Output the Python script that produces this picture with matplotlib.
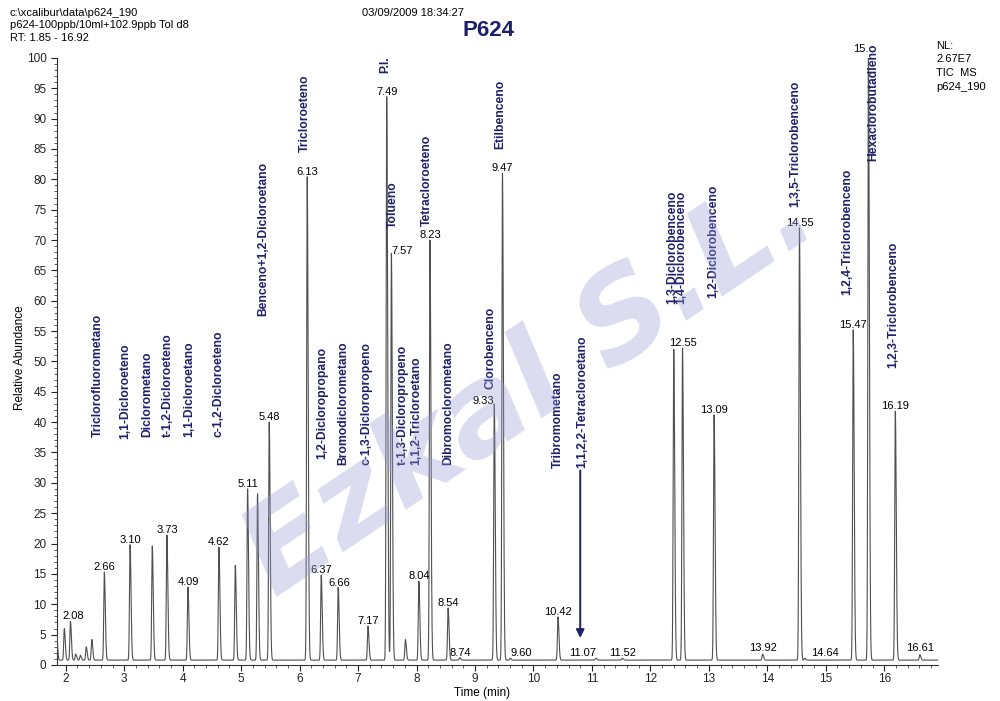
# coding: utf-8
# Cromatograma TIC P624 (Xcalibur) - recreación con matplotlib
import numpy as np
import matplotlib.pyplot as plt
from matplotlib.ticker import MultipleLocator

plt.rcParams['font.family'] = ['Liberation Sans', 'DejaVu Sans']

# ================= datos =================
# picos: tiempo de retención (min) y abundancia relativa (%)
peak_rt = [1.84, 1.975, 2.08, 2.17, 2.25, 2.35, 2.445,
           2.66, 3.10, 3.48, 3.73, 4.09, 4.62, 4.90, 5.11, 5.28, 5.48,
           6.13, 6.37, 6.66, 7.17, 7.49, 7.57, 7.81, 8.04, 8.23, 8.54,
           8.74, 9.33, 9.47, 9.60, 10.42, 11.07, 11.52, 12.40, 12.55,
           13.09, 13.92, 14.55, 14.64, 15.47, 15.73, 16.19, 16.61]
peak_height = [5.0, 5.2, 6.4, 1.0, 0.8, 2.2, 3.4,
               14.5, 19.0, 18.8, 20.6, 12.0, 18.6, 15.6, 28.2, 27.4, 39.2,
               79.6, 14.0, 12.0, 5.6, 92.8, 67.0, 3.4, 13.0, 69.2, 8.6,
               0.4, 42.2, 80.2, 0.3, 7.1, 0.3, 0.3, 51.2, 51.4,
               40.4, 1.0, 71.2, 0.3, 54.4, 99.4, 41.0, 0.9]
baseline = 0.8

# etiquetas de tiempo sobre los picos: texto, x, y, alineación
rt_text = ['2.08', '2.66', '3.10', '3.73', '4.09', '4.62', '5.11', '5.48',
           '6.13', '6.37', '6.66', '7.17', '7.49', '7.57', '8.04', '8.23',
           '8.54', '8.74', '9.33', '9.47', '9.60', '10.42', '11.07', '11.52',
           '12.55', '13.09', '13.92', '14.55', '14.64', '15.47', '15.', '16.19',
           '16.61']
rt_text_x = [2.12, 2.66, 3.10, 3.73, 4.09, 4.62, 5.11, 5.48,
             6.13, 6.37, 6.68, 7.17, 7.49, 7.57, 8.04, 8.23,
             8.54, 8.74, 9.33, 9.47, 9.60, 10.42, 11.07, 11.52,
             12.55, 13.09, 13.92, 14.55, 14.75, 15.47, 15.73, 16.19,
             16.61]
rt_text_y = [7.2, 15.3, 19.8, 21.4, 12.8, 19.4, 29.0, 40.0,
             80.4, 14.8, 12.6, 6.4, 93.6, 67.4, 13.8, 70.0,
             9.4, 1.2, 42.6, 81.0, 1.2, 7.9, 1.2, 1.2,
             52.2, 41.2, 1.9, 72.0, 1.2, 55.2, 100.6, 41.8,
             1.9]
rt_text_ha = ['center'] * 13 + ['left'] + ['center'] * 4 + ['right', 'center', 'left',
             'center', 'right', 'center'] + ['center'] * 4 + ['left', 'center', 'right',
             'center', 'center']

# compuestos: nombre, posición x (min) y base de la etiqueta (%)
compounds = ['Triclorofluorometano', '1,1-Dicloroeteno', 'Diclorometano',
             't-1,2-Dicloroeteno', '1,1-Dicloroetano', 'c-1,2-Dicloroeteno',
             'Benceno+1,2-Dicloroetano', 'Tricloroeteno', '1,2-Dicloropropano',
             'Bromodiclorometano', 'c-1,3-Dicloropropeno', 'P.I.', 'Tolueno',
             't-1,3-Dicloropropeno', '1,1,2-Tricloroetano', 'Tetracloroeteno',
             'Dibromoclorometano', 'Clorobenceno', 'Etilbenceno', 'Tribromometano',
             '1,1,2,2-Tetracloroetano', '1,3-Diclorobenceno', '1,4-Diclorobenceno',
             '1,2-Diclorobenceno', '1,3,5-Triclorobenceno', '1,2,4-Triclorobenceno',
             'Hexaclorobutadieno', '1,2,3-Triclorobenceno']
compound_x = [2.55, 3.01, 3.39, 3.75, 4.12, 4.62, 5.37, 6.09, 6.38, 6.74, 7.15,
              7.46, 7.60, 7.77, 8.00, 8.18, 8.54, 9.26, 9.43, 10.42, 10.84,
              12.38, 12.52, 13.08, 14.48, 15.37, 15.82, 16.16]
compound_y = [37.5, 37.3, 37.5, 37.5, 37.5, 37.5, 57.5, 84.5, 34.0, 33.0, 33.0,
              97.5, 72.0, 33.0, 33.0, 72.3, 33.0, 45.5, 85.0, 32.5, 32.5,
              59.5, 59.5, 60.5, 75.5, 61.0, 83.0, 49.0]

NAVY = '#1f1f6b'
TRACE = '#505050'

# ================= traza =================
t = np.arange(1.85, 16.92, 0.002)
y = np.full_like(t, baseline)
for rt, h in zip(peak_rt, peak_height):
    sig = np.where(t < rt, 0.010, 0.016)
    y += h * np.exp(-0.5 * ((t - rt) / sig) ** 2)

fig = plt.figure(figsize=(10, 7.01), dpi=100)
ax = fig.add_axes([0.057, 0.0514, 0.881, 0.866])
ax.patch.set_alpha(0)

# marca de agua
fig.text(0.53, 0.45, 'Ezkal S.L.', rotation=34, fontsize=88, style='italic',
         weight='bold', color='#9a9ad8', alpha=0.35, ha='center', va='center',
         family='DejaVu Sans', zorder=0)

ax.plot(t, y, color=TRACE, lw=0.8, zorder=3)

for s, x0, y0, ha in zip(rt_text, rt_text_x, rt_text_y, rt_text_ha):
    ax.text(x0, y0, s, ha=ha, va='bottom', fontsize=8, color='black',
            clip_on=False, zorder=4)

for s, x0, y0 in zip(compounds, compound_x, compound_y):
    ax.text(x0, y0, s, rotation=90, ha='center', va='bottom', fontsize=8.7,
            weight='bold', color=NAVY, clip_on=False, zorder=4)

ax.annotate('', xy=(10.80, 4.0), xytext=(10.80, 32.5),
            arrowprops=dict(arrowstyle='-|>', color=NAVY, lw=1.4,
                            mutation_scale=12), zorder=4)

# ejes
ax.set_xlim(1.85, 16.92)
ax.set_ylim(0, 100)
ax.spines['top'].set_visible(False)
ax.spines['right'].set_visible(False)
for sp in ('left', 'bottom'):
    ax.spines[sp].set_color('#333333')
    ax.spines[sp].set_linewidth(0.8)
ax.xaxis.set_major_locator(MultipleLocator(1))
ax.xaxis.set_minor_locator(MultipleLocator(0.2))
ax.yaxis.set_major_locator(MultipleLocator(5))
ax.yaxis.set_minor_locator(MultipleLocator(1))
ax.tick_params(which='major', length=4, width=0.8, labelsize=8.5, colors='#222222')
ax.tick_params(axis='x', which='major', pad=2)
ax.tick_params(which='minor', length=2, width=0.6, colors='#444444')
fig.text(0.482, 0.012, 'Time (min)', ha='center', va='center', fontsize=8.5)
fig.text(0.02, 0.49, 'Relative Abundance', rotation=90, ha='center',
         va='center', fontsize=8.5)

# cabecera
fig.text(0.010, 0.988, 'c:\\xcalibur\\data\\p624_190', fontsize=8, va='top')
fig.text(0.010, 0.971, 'p624-100ppb/10ml+102.9ppb Tol d8', fontsize=8, va='top')
fig.text(0.010, 0.953, 'RT: 1.85 - 16.92', fontsize=8, va='top')
fig.text(0.362, 0.988, '03/09/2009 18:34:27', fontsize=8, va='top')
fig.text(0.488, 0.957, 'P624', fontsize=16, weight='bold', color=NAVY,
         ha='center', va='center')
for i, s in enumerate(['NL:', '2.67E7', 'TIC  MS', 'p624_190']):
    fig.text(0.936, 0.935 - i * 0.0195, s, fontsize=8, va='center')

fig.savefig('out.png', dpi=100)
